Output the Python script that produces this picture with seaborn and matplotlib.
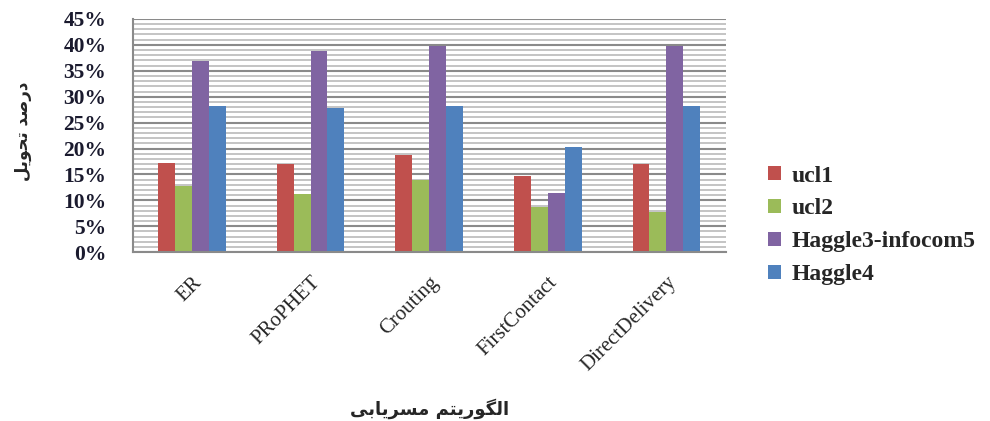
import pandas as pd
import numpy as np
import matplotlib
matplotlib.use("Agg")
import matplotlib.pyplot as plt
import seaborn as sns
from matplotlib.ticker import MultipleLocator, PercentFormatter

# data (delivery ratio, %)
algorithms = ["ER", "PRoPHET", "Crouting", "FirstContact", "DirectDelivery"]
datasets = ["ucl1", "ucl2", "Haggle3-infocom5", "Haggle4"]
ucl1 = [17.3, 17.0, 18.7, 14.7, 17.0]
ucl2 = [12.7, 11.2, 14.0, 8.8, 7.8]
haggle3 = [36.8, 38.8, 39.8, 11.4, 39.8]
haggle4 = [28.3, 27.8, 28.3, 20.3, 28.3]
colors = ["#C0504D", "#9BBB59", "#8064A2", "#4F81BD"]

# Persian axis titles, pre-shaped (presentation forms, visual order)
ylabel_fa = "\uFEA9\uFEAD\uFEBB\uFEAA \uFE97\uFEA4\uFEEE\uFBFE\uFEDE"[::-1]
xlabel_fa = "\uFE8D\uFEDF\uFB95\uFEEE\uFEAD\uFBFE\uFE98\uFEE2 \uFEE3\uFEB4\uFEAE\uFBFE\uFE8E\uFE91\uFBFD"[::-1]

df = pd.DataFrame({
    "algorithm": np.repeat(algorithms, len(datasets)),
    "dataset": datasets * len(algorithms),
    "value": np.array([ucl1, ucl2, haggle3, haggle4]).T.ravel(),
})

sns.set_style("white")
plt.rcParams["font.family"] = ["Liberation Serif", "DejaVu Sans"]

fig = plt.figure(figsize=(9.9, 4.21), dpi=100)
ax = fig.add_axes([0.134, 0.401, 0.599, 0.554])

sns.barplot(data=df, x="algorithm", y="value", hue="dataset",
            hue_order=datasets, palette=colors, width=0.57, gap=0,
            linewidth=0, saturation=1, ax=ax)

ax.set_ylim(0, 45)
ax.yaxis.set_major_locator(MultipleLocator(5))
ax.yaxis.set_minor_locator(MultipleLocator(1))
ax.yaxis.set_major_formatter(PercentFormatter(100, decimals=0))
ax.grid(axis="y", which="minor", color="#c4c4c4", linewidth=1.4)
ax.grid(axis="y", which="major", color="#8a8a8a", linewidth=1.5)
ax.set_axisbelow(True)

for side in ["top", "right"]:
    ax.spines[side].set_visible(False)
for side in ["left", "bottom"]:
    ax.spines[side].set_color("#8a8a8a")
    ax.spines[side].set_linewidth(1.5)

ax.tick_params(axis="y", which="major", length=7, width=1.5, color="#8a8a8a",
               direction="out", labelsize=15.5, pad=12)
ax.tick_params(axis="y", which="minor", length=0)
ax.tick_params(axis="x", length=0, labelsize=15, pad=15)
for lbl in ax.get_yticklabels():
    lbl.set_fontweight("bold")
    lbl.set_color("#1a1a2e")
for lbl in ax.get_xticklabels():
    lbl.set_rotation(45)
    lbl.set_ha("right")
    lbl.set_rotation_mode("anchor")

ax.set_xlabel(xlabel_fa, family=["DejaVu Sans"], fontweight="bold", fontsize=13)
ax.xaxis.set_label_coords(0.5, -0.625)
ax.set_ylabel(ylabel_fa, family=["DejaVu Sans"], fontweight="bold", fontsize=12)
ax.yaxis.set_label_coords(-0.17, 0.52)

ax.legend(loc="center left", bbox_to_anchor=(1.035, 0.115), frameon=False,
          prop={"family": "Liberation Serif", "weight": "bold", "size": 17},
          handlelength=0.55, handleheight=0.55, handletextpad=0.45,
          labelspacing=0.5)

fig.savefig("out.png", dpi=100)
